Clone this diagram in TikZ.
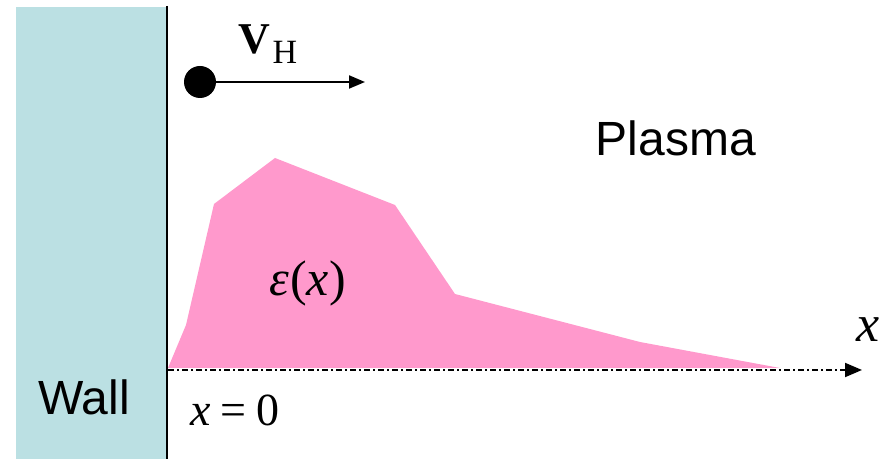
\documentclass[tikz,border=0pt]{standalone}
\usepackage{fontspec}
\setmainfont{Liberation Sans}
\newfontfamily\tmsfont{Liberation Serif}
\usetikzlibrary{arrows.meta,positioning}
\definecolor{wallteal}{RGB}{187,224,227}
\definecolor{epspink}{RGB}{255,153,204}
\tikzset{
  lbl/.style={inner sep=0pt, text=black},
  varr/.style={-{Triangle[length=8pt,width=6.5pt]}, line width=1pt},
  axarr/.style={-{Triangle[length=8.5pt,width=7pt]}, line width=1pt,
                dash pattern=on 3pt off 1.5pt on 1pt off 1.5pt},
}
\begin{document}
\begin{tikzpicture}[x=0.5pt,y=-0.5pt]
    \useasboundingbox (0,0) rectangle (880,459);
    % wall
    \fill[wallteal] (16,7) rectangle (167,459);
    \draw[line width=1.2pt] (167,6) -- (167,459);
    \node[lbl,font=\fontsize{24}{26}\selectfont] (wall) at (84,397) {Wall};
    % epsilon profile
    \fill[epspink] (168,368) -- (186,325) -- (214,204) -- (275,158) -- (395,205)
        -- (455,294) -- (640,342) -- (780,368) -- cycle;
    \node[lbl,font=\fontsize{25}{27}\selectfont\tmsfont] (eps) at (308,283) {\itshape ε\upshape\kern0.5pt(\itshape x\upshape\kern0.5pt)};
    % x axis
    \coordinate (orig) at (168,370);
    \coordinate (xend) at (862,370);
    \draw[axarr] (orig) -- (xend);
    \node[lbl,font=\fontsize{26}{28}\selectfont\tmsfont\itshape] (xlbl) at (868,330) {x};
    \node[lbl,font=\fontsize{23}{25}\selectfont\tmsfont] (xzero) at (235,410) {\itshape x\upshape\kern5pt=\kern5pt0};
    % hydrogen atom
    \node[circle,fill=black,inner sep=0pt,minimum size=16pt] (hatom) at (200,82) {};
    \coordinate (vend) at (365,82);
    \draw[varr] (hatom) -- (vend);
    \node[lbl,font=\fontsize{22}{24}\selectfont\tmsfont] (vh) at (268,44) {\textbf{V}\kern1pt\raisebox{-5pt}{\fontsize{17}{19}\selectfont H}};
    % plasma
    \node[lbl,font=\fontsize{24}{26}\selectfont] (plasma) at (676,138) {Plasma};
\end{tikzpicture}
\end{document}
